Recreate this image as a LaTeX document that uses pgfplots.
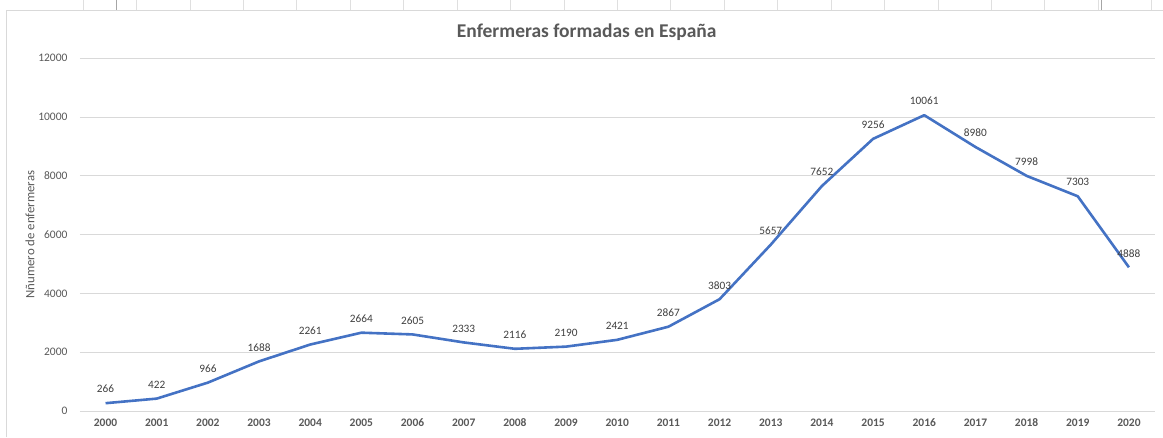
\documentclass[border=0pt]{standalone}
\usepackage{pgfplots}
\pgfplotsset{compat=1.18}
\usepackage{fontspec}
\setmainfont{Carlito}
\definecolor{excelblue}{HTML}{4472C4}
\definecolor{gridgray}{HTML}{D9D9D9}
\definecolor{txtgray}{HTML}{595959}
\definecolor{lblgray}{HTML}{404040}
\begin{document}
\begin{tikzpicture}[x=1pt,y=1pt]
\fill[white] (0,0) rectangle (1163,437);
\foreach \i in {0,...,20} {\draw[gray!25] (83+53.45*\i,427) -- (83+53.45*\i,437);}
\draw[gray!70] (116,427) -- (116,437);
\draw[gray!70] (1102,427) -- (1102,437);
\draw[gray!30, line width=1pt] (7,0) -- (7,427) -- (1163,427);
\node[font=\fontsize{19.5}{22}\selectfont\bfseries, text=txtgray] at (587,405) {Enfermeras formadas en España};
\begin{axis}[
  at={(80pt,26pt)}, anchor=south west,
  scale only axis, width=1075pt, height=353pt,
  xmin=-0.5, xmax=20.5, ymin=0, ymax=12000,
  xtick={0,...,20},
  xticklabels={2000,2001,2002,2003,2004,2005,2006,2007,2008,2009,2010,2011,2012,2013,2014,2015,2016,2017,2018,2019,2020},
  ytick={0,2000,...,12000},
  scaled y ticks=false,
  axis line style={draw=none},
  major tick length=0pt,
  ymajorgrids, grid style={gridgray, line width=0.8pt},
  /pgf/number format/1000 sep={},
  /pgf/number format/assume math mode=true,
  yticklabel style={font=\fontsize{11.5}{13}\selectfont, text=txtgray, anchor=east, xshift=-9pt, /pgf/number format/fixed},
  xticklabel style={font=\fontsize{11.5}{13}\selectfont\bfseries, text=txtgray, anchor=center, yshift=-12pt},
  ylabel={Nñumero de enfermeras},
  ylabel style={font=\fontsize{12.8}{14}\selectfont, text=txtgray, at={(axis description cs:-0.0465,0.5)}, anchor=center},
  nodes near coords,
  nodes near coords style={font=\fontsize{11.3}{13}\selectfont, text=lblgray, anchor=center, yshift=14pt},
  clip=false,
]
\addplot[excelblue, line width=2.6pt, line join=round, mark=none] coordinates {
(0,266) (1,422) (2,966) (3,1688) (4,2261) (5,2664) (6,2605) (7,2333) (8,2116) (9,2190) (10,2421)
(11,2867) (12,3803) (13,5657) (14,7652) (15,9256) (16,10061) (17,8980) (18,7998) (19,7303) (20,4888)
};
\end{axis}
\end{tikzpicture}
\end{document}
